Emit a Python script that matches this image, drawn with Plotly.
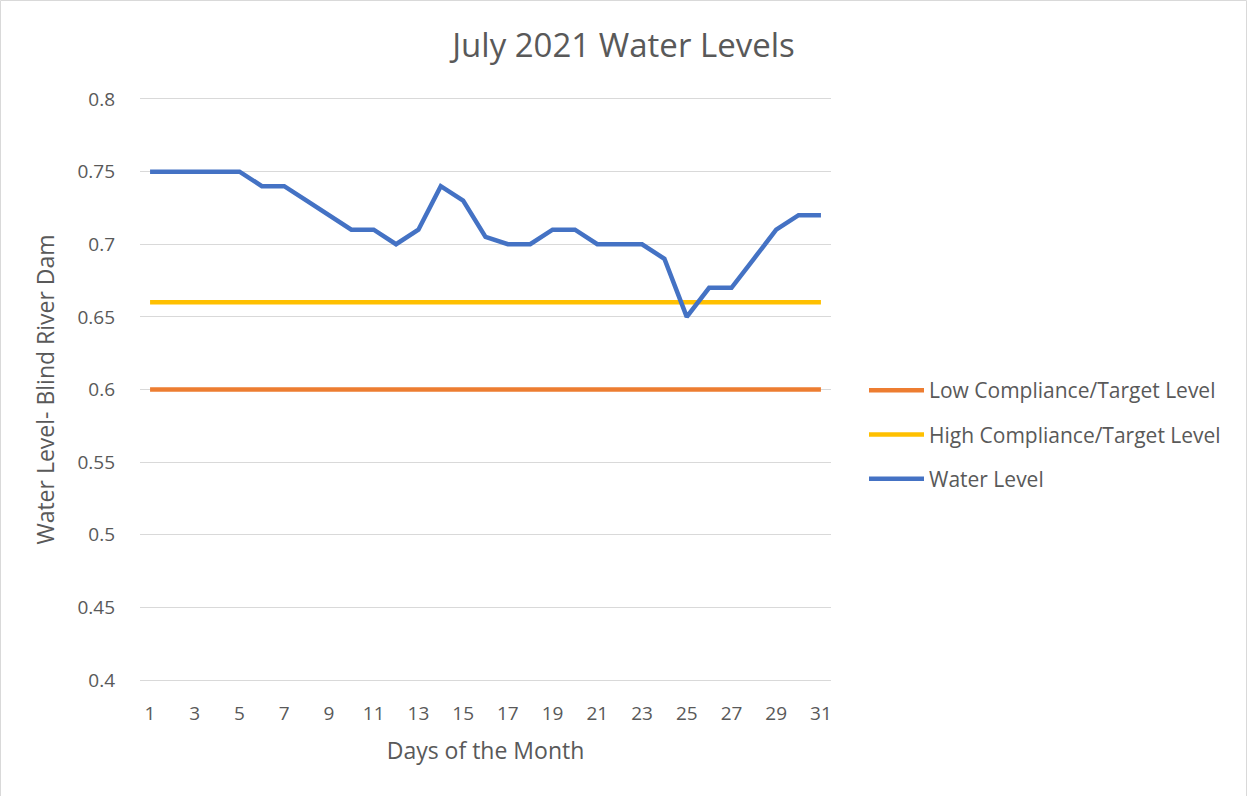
import plotly.graph_objects as go

days = list(range(1, 32))
low_target = [0.60] * 31
high_target = [0.66] * 31
water_level = [0.75, 0.75, 0.75, 0.75, 0.75, 0.74, 0.74, 0.73, 0.72, 0.71,
               0.71, 0.70, 0.71, 0.74, 0.73, 0.705, 0.70, 0.70, 0.71, 0.71,
               0.70, 0.70, 0.70, 0.69, 0.65, 0.67, 0.67, 0.69, 0.71, 0.72, 0.72]
x_ticks = list(range(1, 32, 2))

FONT = "Open Sans"
GREY = "#595959"

W, H = 1247, 796
L, R, T, B = 140, 416, 99, 116
pw, ph = W - L - R, H - T - B

fig = go.Figure()
fig.add_trace(go.Scatter(x=days, y=low_target, mode="lines", name="Low Compliance/Target Level",
                         line=dict(color="#ED7D31", width=4.5), legendgroup="a"))
fig.add_trace(go.Scatter(x=days, y=high_target, mode="lines", name="High Compliance/Target Level",
                         line=dict(color="#FFC000", width=4.5), legendgroup="b"))
fig.add_trace(go.Scatter(x=days, y=water_level, mode="lines", name="Water Level",
                         line=dict(color="#4472C4", width=4.5), legendgroup="c"))

fig.update_layout(
    width=W, height=H,
    margin=dict(l=L, r=R, t=T, b=B),
    paper_bgcolor="white", plot_bgcolor="white",
    font=dict(family=FONT, color=GREY, size=19),
    title=dict(text="July 2021 Water Levels", x=0.5, xref="container", xanchor="center",
               y=1 - 45 / H, yanchor="middle", font=dict(size=33, color=GREY, family=FONT)),
    xaxis=dict(range=[0.55, 31.45], tickvals=x_ticks, ticktext=[str(v) for v in x_ticks],
               showgrid=False, zeroline=False, showline=True, mirror=True,
               linecolor="#D9D9D9", linewidth=1, ticks="",
               ticklabelstandoff=16,
               tickfont=dict(size=19, color=GREY),
               title=dict(text="Days of the Month", font=dict(size=23, color=GREY), standoff=18)),
    yaxis=dict(range=[0.4, 0.8], dtick=0.05, tick0=0.4, showgrid=True, gridcolor="#D9D9D9",
               gridwidth=1, zeroline=False, showline=False, ticks="",
               ticklabelstandoff=24,
               tickfont=dict(size=19, color=GREY),
               title=dict(text="Water Level- Blind River Dam", font=dict(size=23, color=GREY), standoff=16)),
    legend=dict(x=(864 - L) / pw, y=(680 - 370) / ph, xanchor="left", yanchor="top",
                font=dict(size=21, color=GREY, family=FONT), tracegroupgap=14,
                itemwidth=55, bgcolor="rgba(0,0,0,0)"),
    showlegend=True,
    shapes=[dict(type="rect", xref="paper", yref="paper",
                 x0=(0.5 - L) / pw, x1=(W - 0.5 - L) / pw,
                 y0=(680 - (H + 5)) / ph, y1=(680 - 0.5) / ph,
                 line=dict(color="#D9D9D9", width=1), fillcolor="rgba(0,0,0,0)", layer="below")],
)

fig.write_html("out.html", config={"displayModeBar": False},
               post_script="document.body.style.margin='0';document.body.style.overflow='hidden';")
